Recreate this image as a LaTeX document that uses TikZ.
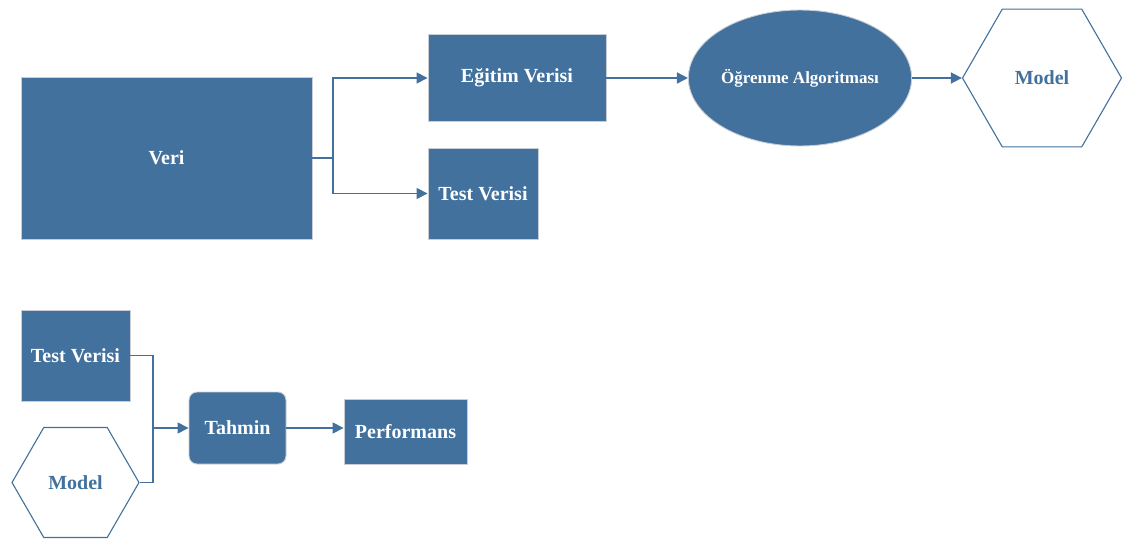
\documentclass[tikz,border=0pt]{standalone}
\usepackage{fontspec}
\setmainfont{Liberation Serif}
\usetikzlibrary{shapes.geometric,arrows.meta,calc}
\definecolor{boxblue}{HTML}{41719C}
\definecolor{boxedge}{HTML}{C9CED6}
\begin{document}
\begin{tikzpicture}[x=1pt,y=-1pt,
  box/.style={rectangle,fill=boxblue,draw=boxedge,line width=0.9pt,inner sep=0pt,
    text=white,font=\fontsize{20}{24}\selectfont\bfseries},
  oval/.style={ellipse,fill=boxblue,draw=boxedge,line width=0.9pt,inner sep=0pt,
    text=white,font=\fontsize{17}{20}\selectfont\bfseries},
  hexa/.style={regular polygon,regular polygon sides=6,fill=white,draw=boxblue,
    line width=1.1pt,inner sep=0pt,text=boxblue,font=\fontsize{20}{24}\selectfont\bfseries},
  conn/.style={draw=boxblue,line width=1.6pt},
  arr/.style={conn,-{Triangle[length=11pt,width=11pt]}}
]
\useasboundingbox (0,0) rectangle (1124,540);
% top row
\node[box,minimum width=291pt,minimum height=162pt] (veri) at (166.5,158) {Veri};
\node[box,minimum width=178pt,minimum height=87pt] (egitim) at (517,78) {Eğitim Verisi};
\node[box,minimum width=110pt,minimum height=91pt] (test1) at (483,193.5) {Test Verisi};
\node[oval,minimum width=214pt,minimum height=136pt] (ogr) at (800,78) {Öğrenme Algoritması};
\node[hexa,minimum size=159pt] (model1) at (1042,78) {Model};
\coordinate (br) at (333,158);
\draw[conn] (veri.east) -- (br);
\draw[arr] (br) |- (egitim.west);
\draw[arr] (br) |- (test1.west);
\draw[arr] (egitim.east) -- (ogr.west);
\draw[arr] (ogr.east) -- (model1.west);
% bottom row
\node[box,minimum width=109pt,minimum height=91pt] (test2) at (75.5,355.5) {Test Verisi};
\node[hexa,minimum size=127pt] (model2) at (75.5,482.5) {Model};
\node[box,rounded corners=8pt,minimum width=97pt,minimum height=72pt] (tahmin) at (237.5,428) {Tahmin};
\node[box,minimum width=123pt,minimum height=65pt] (perf) at (405.5,431.5) {Performans};
\coordinate (jn) at (153,428);
\draw[conn] (test2.east) -| (jn);
\draw[conn] (model2.east) -| (jn);
\draw[arr] (jn) -- (tahmin.west);
\draw[arr] (tahmin.east) -- (tahmin.east -| perf.west);
\end{tikzpicture}
\end{document}
